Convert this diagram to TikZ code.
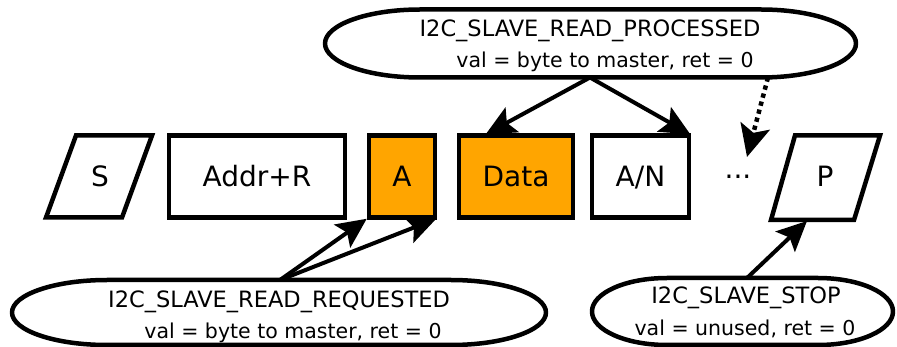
\documentclass[tikz,border=0pt]{standalone}
\usepackage{fontspec}
\setmainfont{DejaVu Sans}
\usetikzlibrary{arrows.meta,calc}
\definecolor{boxorange}{RGB}{255,165,0}
\tikzset{
  field/.style={draw, line width=4.5pt, minimum height=82pt, inner sep=0pt,
    text height=20.4pt, text depth=0pt, font=\fontsize{28}{33}\selectfont},
  hl/.style={fill=boxorange},
  lbl/.style={inner sep=0pt, anchor=base, font=\fontsize{28}{33}\selectfont},
  evone/.style={inner sep=0pt, anchor=base, font=\fontsize{22.5}{27}\selectfont},
  evtwo/.style={inner sep=0pt, anchor=base, font=\fontsize{20.5}{25}\selectfont},
  outline/.style={line width=4.5pt, line join=round},
  conn/.style={line width=4pt, -{Stealth[length=30pt,width=28pt,inset=6pt]}},
  dotconn/.style={line width=4.5pt, dash pattern=on 4.3pt off 4pt,
    -{Stealth[length=32pt,width=30pt,inset=7pt]}}
}
\newcommand\capsulepath[5]{%
  \draw[outline] ({#1+#5},#2) -- ({#3-#5},#2)
    .. controls ({#3-#5+0.552*#5},#2) and (#3,{(#2+#4)/2-0.552*(#4-#2)/2}) .. (#3,{(#2+#4)/2})
    .. controls (#3,{(#2+#4)/2+0.552*(#4-#2)/2}) and ({#3-#5+0.552*#5},#4) .. ({#3-#5},#4)
    -- ({#1+#5},#4)
    .. controls ({#1+#5-0.552*#5},#4) and (#1,{(#2+#4)/2+0.552*(#4-#2)/2}) .. (#1,{(#2+#4)/2})
    .. controls (#1,{(#2+#4)/2-0.552*(#4-#2)/2}) and ({#1+#5-0.552*#5},#2) .. ({#1+#5},#2)
    -- cycle;}
\begin{document}
\begin{tikzpicture}[x=1pt,y=-1pt]
\useasboundingbox (0,0) rectangle (897,347);

% event capsules
\capsulepath{325}{9.5}{856}{77.5}{95}
\capsulepath{12}{280}{546}{345}{95}
\capsulepath{592}{278}{893}{345}{75}

\node[evone] (proc) at (590,37) {I2C\_SLAVE\_READ\_PROCESSED};
\node[evtwo] (procv) at (605,68) {val = byte to master, ret = 0};
\node[evone] (req) at (279,307.5) {I2C\_SLAVE\_READ\_REQUESTED};
\node[evtwo] (reqv) at (293,338) {val = byte to master, ret = 0};
\node[evone] (stop) at (746,304) {I2C\_SLAVE\_STOP};
\node[evtwo] (stopv) at (745,335) {val = unused, ret = 0};

% frame fields
\draw[line width=4.5pt, line join=miter] (46,217.5) -- (122,217.5) -- (152,135.5) -- (76,135.5) -- cycle;
\node[lbl] (s) at (100,186.4) {S};
\node[field, minimum width=176pt] (addr) at (257,176.5) {Addr+R};
\node[field, hl, minimum width=66pt] (a) at (402,176.5) {A};
\node[field, hl, minimum width=114pt] (data) at (516,176.5) {Data};
\node[field, minimum width=97pt] (an) at (640.5,176.5) {A/N};
\node[lbl] (dots) at (738,186.4) {···};
\draw[line width=4.5pt, line join=miter] (771,220) -- (854,220) -- (880,135.5) -- (795,135.5) -- cycle;
\node[lbl] (p) at (825,186.4) {P};

% connector end points
\coordinate (procS) at (590,77.5);
\coordinate (procD) at (768,77.5);
\coordinate (reqN) at (280,280);
\coordinate (stopN) at (747,278);
\coordinate (dotEnd) at (747,157);
\coordinate (pS) at (807,221);

% connectors
\draw[conn] (procS) -- ([xshift=29pt,yshift=-1pt]data.north west);
\draw[conn] (procS) -- ([xshift=-1pt,yshift=-1pt]an.north east);
\draw[conn] (reqN) -- ([yshift=1pt]a.south west);
\draw[conn] (reqN) -- ([xshift=-1pt,yshift=1pt]a.south east);
\draw[dotconn] (procD) -- (dotEnd);
\draw[conn] (stopN) -- (pS);
\end{tikzpicture}
\end{document}
